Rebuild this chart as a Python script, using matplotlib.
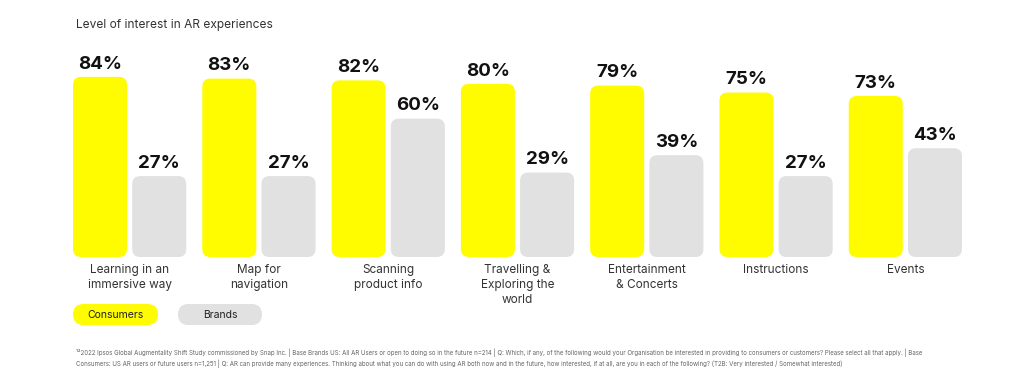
import matplotlib
matplotlib.use("Agg")
import matplotlib.pyplot as plt
from matplotlib.patches import FancyBboxPatch
import numpy as np

plt.rcParams['font.family'] = ['Inter', 'DejaVu Sans']

categories = ["Learning in an\nimmersive way", "Map for\nnavigation", "Scanning\nproduct info",
              "Travelling &\nExploring the\nworld", "Entertainment\n& Concerts", "Instructions", "Events"]
consumers = [84, 83, 82, 80, 79, 75, 73]
brands = [27, 27, 60, 29, 39, 27, 43]
series_names = ["Consumers", "Brands"]
title = "Level of interest in AR experiences"
footnote = ("¹²2022 Ipsos Global Augmentality Shift Study commissioned by Snap Inc. | Base Brands US: All AR Users or open to doing so in the future n=214 | "
            "Q: Which, if any, of the following would your Organisation be interested in providing to consumers or customers? Please select all that apply. | Base\n"
            "Consumers: US AR users or future users n=1,251 | Q: AR can provide many experiences. Thinking about what you can do with using AR both now and in the future, "
            "how interested, if at all, are you in each of the following? (T2B: Very interested / Somewhat interested)")

YELLOW = "#FFFC00"
GRAY = "#E1E1E1"
TEXT = "#333333"

W, H, DPI = 10.24, 3.80, 100
fig = plt.figure(figsize=(W, H), dpi=DPI)
fig.patch.set_facecolor("white")

base = -19.5
ax = fig.add_axes([73 / 1024, (380 - 257) / 380, 889 / 1024, 197 / 380])
ax.set_xlim(-0.438, 6.438)
ax.set_ylim(base, 93.7)
ax.axis("off")

x = np.arange(len(categories))
bw = 0.418
off = 0.229
b1 = ax.bar(x - off, np.array(consumers) - base, bottom=base, width=bw, color=YELLOW)
b2 = ax.bar(x + off, np.array(brands) - base, bottom=base, width=bw, color=GRAY)

fig.canvas.draw()
p0 = ax.transData.inverted().transform((0, 0))
p1 = ax.transData.inverted().transform((1, 1))
dx = p1[0] - p0[0]
dy = p1[1] - p0[1]
aspect = dy / dx
r = 8 * dx

for bars, color, vals in ((b1, YELLOW, consumers), (b2, GRAY, brands)):
    for rect, v in zip(bars, vals):
        rect.set_visible(False)
        fb = FancyBboxPatch((rect.get_x(), rect.get_y()), rect.get_width(), rect.get_height(),
                            boxstyle=f"round,pad=0,rounding_size={r}", mutation_aspect=aspect,
                            facecolor=color, edgecolor="none")
        ax.add_patch(fb)
        ax.annotate(f"{v}%", (rect.get_x() + rect.get_width() / 2, v), xytext=(0, 3),
                    textcoords="offset points", ha="center", va="bottom",
                    fontsize=13.5, fontweight="bold", color="#111111")

for i, c in enumerate(categories):
    ax.annotate(c, (i, base), xytext=(0, -5), textcoords="offset points", ha="center", va="top",
                fontsize=8.5, color=TEXT, linespacing=1.35)

fig.text(76 / 1024, 1 - 25 / 380, title, fontsize=8.6, color=TEXT, va="center", ha="left")

pills = [(73, 158), (178, 262)]
for (x0, x1), name, color in zip(pills, series_names, [YELLOW, GRAY]):
    px0, px1 = x0 / DPI, x1 / DPI
    py0, ph = (380 - 325) / DPI, 21 / DPI
    pill = FancyBboxPatch((px0, py0), px1 - px0, ph, boxstyle=f"round,pad=0,rounding_size={ph/2}",
                          transform=fig.dpi_scale_trans, facecolor=color, edgecolor="none")
    fig.patches.append(pill)
    fig.text((px0 + px1) / 2, py0 + ph / 2, name, transform=fig.dpi_scale_trans,
             ha="center", va="center", fontsize=7.5, color="#222222")

fig.text(76 / 1024, 1 - 358.5 / 380, footnote, fontsize=4.42, color="#666666", va="center",
         ha="left", linespacing=1.4)

fig.savefig("out.png", dpi=DPI, facecolor="white")
